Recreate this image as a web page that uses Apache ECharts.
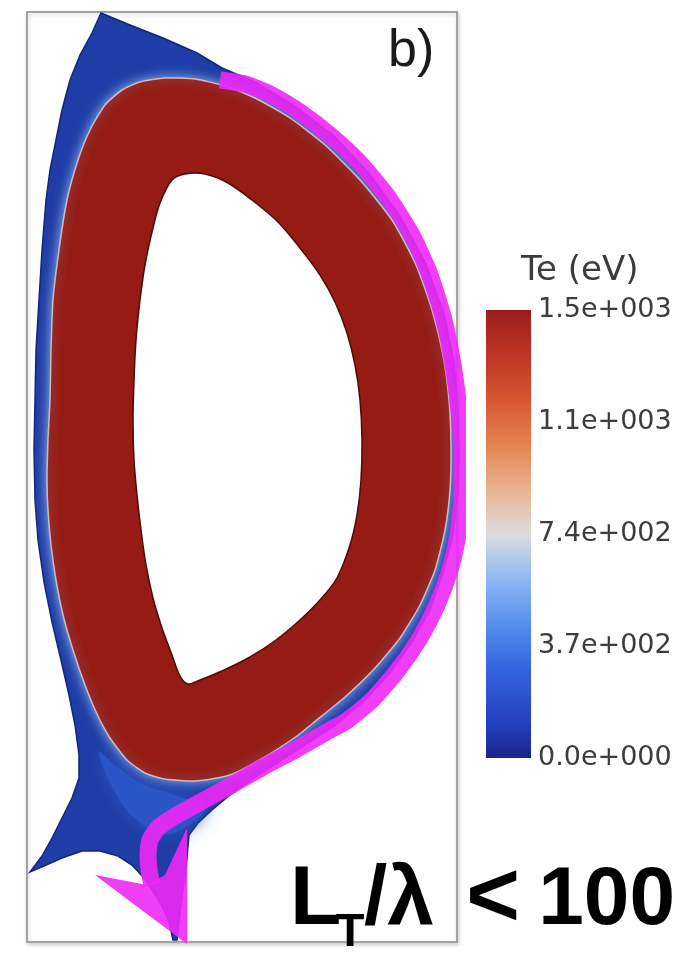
<!DOCTYPE html>
<html>
<head>
<meta charset="utf-8">
<script src="https://cdn.jsdelivr.net/npm/echarts@6/dist/echarts.min.js"></script>
<style>html,body{margin:0;padding:0;background:#fff;}#c{width:679px;height:959px;}</style>
</head>
<body>
<div id="c"></div>
<script>
// ---- data (poloidal plane, R/Z in plot units) ----
// outer boundary of the simulated domain (Te ~ 0 eV)
const domainBoundary = [[74,929],[103,917],[136,904],[170,889],[195,874],[228,860],[268,836],[306,807],[341,770],[373,726],[399,678],[417,628],[427,580],[431,532],[432,487],[431,447],[426,407],[416,369],[403,332],[385,300],[363,269],[335,239],[306,215],[270,192],[236,170],[203,147],[185,132],[171,119],[162,107],[159,72],[154,37],[150,2],[146,2],[142,20],[135,36],[126,51],[116,65],[105,77],[91,86],[73,91],[55,91],[35,84],[17,76],[3,70],[15,86],[25,104],[35,124],[45,144],[52,164],[52,187],[48,217],[42,247],[34,282],[25,320],[17,360],[11,402],[8,442],[7,492],[8,542],[9,592],[12,642],[15,692],[19,742],[23,772],[29,802],[35,832],[43,862],[53,887],[65,909]];
// Te ~ 300 eV region near the X-point
const xPointContour = [[72,190],[88,150],[110,122],[138,108],[160,116],[178,134],[150,146],[115,158],[90,175]];
// Te = 1.5e3 eV contour (core edge)
const coreEdge = [[113,860],[138,864],[168,863],[198,856],[228,844],[263,824],[298,797],[333,762],[365,722],[389,677],[405,632],[416,587],[422,542],[424,497],[423,452],[418,412],[408,372],[393,337],[373,304],[348,274],[318,245],[286,219],[270,206],[236,184],[203,167],[168,161],[138,163],[118,169],[100,182],[83,204],[70,228],[58,257],[46,292],[36,327],[29,362],[24,397],[21,432],[20,462],[21,502],[23,542],[24,592],[26,642],[32,692],[40,742],[51,782],[63,812],[78,837],[95,852]];
// inner boundary of the computational domain
const innerBoundary = [[145,762],[158,768],[178,768],[201,759],[225,742],[251,720],[273,694],[293,667],[308,640],[320,609],[328,577],[333,542],[335,502],[334,462],[330,427],[323,397],[310,364],[293,342],[273,322],[249,302],[223,285],[195,271],[173,262],[161,258],[153,266],[145,287],[135,314],[126,344],[119,377],[114,412],[110,447],[107,482],[106,522],[107,562],[109,602],[113,642],[118,677],[125,710],[133,739]];
// field line path along the SOL
const fieldLine = [[193,862],[218,858],[243,848],[273,830],[303,807],[333,779],[361,745],[385,707],[403,667],[417,622],[426,577],[432,532],[435,487],[435,447],[431,407],[423,372],[410,337],[393,304],[371,272],[345,242],[318,220],[303,212],[270,193],[236,175],[203,156],[170,138],[145,124],[131,114],[123,102],[121,87],[122,72],[125,57]];
const arrowHead = [[160,-2],[68,67],[120,57],[138,67],[160,114]];
// colour bar
const teRange = [0, 1480];
const teTicks = [0, 370, 740, 1110, 1480];
const teTickLabels = ['0.0e+000', '3.7e+002', '7.4e+002', '1.1e+003', '1.5e+003'];
const colorbarTitle = 'Te (eV)';
const panelLabel = 'b)';

const chart = echarts.init(document.getElementById('c'), null, {renderer: 'canvas'});

function polygonSeries(name, pts, style, z, smooth) {
  return {
    type: 'custom', name: name, coordinateSystem: 'cartesian2d',
    xAxisIndex: 0, yAxisIndex: 0, data: pts, clip: false, silent: true, z: z,
    renderItem: function (params, api) {
      if (params.dataIndex !== 0) return null;
      return {
        type: 'polygon',
        shape: {points: pts.map(function (p) { return api.coord(p); }), smooth: smooth || 0},
        style: style
      };
    }
  };
}

const magenta = 'rgba(238,40,246,0.9)';
const bigFont = {fontFamily: 'Liberation Sans', fontWeight: 'bold', fill: '#000'};

const option = {
  animation: false,
  backgroundColor: '#ffffff',
  title: [
    {text: panelLabel, left: 388, top: 26, padding: 0,
     textStyle: {fontFamily: 'Liberation Sans', fontSize: 52, fontWeight: 'normal', color: '#1a1a1a'}},
    {text: colorbarTitle, left: 521, top: 254, padding: 0,
     textStyle: {fontFamily: 'DejaVu Sans', fontSize: 34, fontWeight: 'normal', color: '#3c3c3c'}}
  ],
  graphic: [
    {type: 'text', x: 290, y: 901, z: 100,
     style: Object.assign({text: 'L', fontSize: 84, align: 'left', verticalAlign: 'middle'}, bigFont)},
    {type: 'text', x: 350, y: 933, z: 100,
     style: Object.assign({text: 'T', fontSize: 47, align: 'center', verticalAlign: 'middle'}, bigFont)},
    {type: 'text', x: 364, y: 901, z: 100,
     style: Object.assign({text: '/λ', fontSize: 84, align: 'left', verticalAlign: 'middle'}, bigFont)},
    {type: 'text', x: 493, y: 901, z: 100,
     style: Object.assign({text: '<', fontSize: 92, align: 'center', verticalAlign: 'middle'}, bigFont)},
    {type: 'text', x: 675, y: 901, z: 100,
     style: Object.assign({text: '100', fontSize: 82, align: 'right', verticalAlign: 'middle'}, bigFont)}
  ],
  grid: [
    {left: 27, top: 12, width: 430, height: 930, show: true, backgroundColor: '#ffffff',
     borderColor: '#a3a3a3', borderWidth: 2,
     shadowColor: 'rgba(0,0,0,0.18)', shadowBlur: 4, shadowOffsetX: 1, shadowOffsetY: 2},
    {left: 486, top: 310, width: 45, height: 448, show: false}
  ],
  xAxis: [
    {gridIndex: 0, type: 'value', min: 0, max: 430, show: false},
    {gridIndex: 1, type: 'category', data: ['Te'], show: false}
  ],
  yAxis: [
    {gridIndex: 0, type: 'value', min: 0, max: 930, show: false},
    {gridIndex: 1, type: 'value', position: 'right', min: teRange[0], max: teRange[1], interval: 370,
     axisLine: {show: false}, axisTick: {show: false}, splitLine: {show: false},
     axisLabel: {margin: 7, color: '#3c3c3c', fontFamily: 'DejaVu Sans', fontSize: 27,
       formatter: function (v) { const i = teTicks.indexOf(v); return i >= 0 ? teTickLabels[i] : ''; }}}
  ],
  series: [
    polygonSeries('domain', domainBoundary,
      {fill: '#1f3da6', stroke: '#14267a', lineWidth: 1.5}, 1),
    polygonSeries('xpoint', xPointContour,
      {fill: '#2b55c6', shadowBlur: 18, shadowColor: '#2b55c6'}, 2, 0.4),
    polygonSeries('core', coreEdge,
      {fill: '#961b14', stroke: 'rgba(222,205,200,0.85)', lineWidth: 1.5, shadowBlur: 12, shadowColor: 'rgba(150,190,240,0.95)'}, 3, 0.2),
    polygonSeries('inner', innerBoundary,
      {fill: '#ffffff', stroke: '#4a0d08', lineWidth: 1.5}, 4, 0.3),
    {type: 'line', name: 'field line', xAxisIndex: 0, yAxisIndex: 0, data: fieldLine,
     showSymbol: false, smooth: 0.2, clip: false, silent: true, z: 5,
     lineStyle: {color: magenta, width: 17, cap: 'butt', join: 'round'}},
    polygonSeries('arrow', arrowHead, {fill: magenta}, 5),
    {type: 'bar', name: 'colorbar', xAxisIndex: 1, yAxisIndex: 1, data: [teRange[1]],
     barWidth: '100%', silent: true,
     itemStyle: {color: new echarts.graphic.LinearGradient(0, 0, 0, 1, [
       {offset: 0, color: '#9c1c1c'},
       {offset: 0.1, color: '#bf3526'},
       {offset: 0.2, color: '#d65632'},
       {offset: 0.3, color: '#e4824f'},
       {offset: 0.4, color: '#eab190'},
       {offset: 0.5, color: '#dcdcdc'},
       {offset: 0.6, color: '#8fb8f2'},
       {offset: 0.7, color: '#5690ee'},
       {offset: 0.8, color: '#3565e0'},
       {offset: 0.92, color: '#2440c0'},
       {offset: 1, color: '#1a2388'}
     ])}}
  ]
};
chart.setOption(option);
</script>
</body>
</html>
